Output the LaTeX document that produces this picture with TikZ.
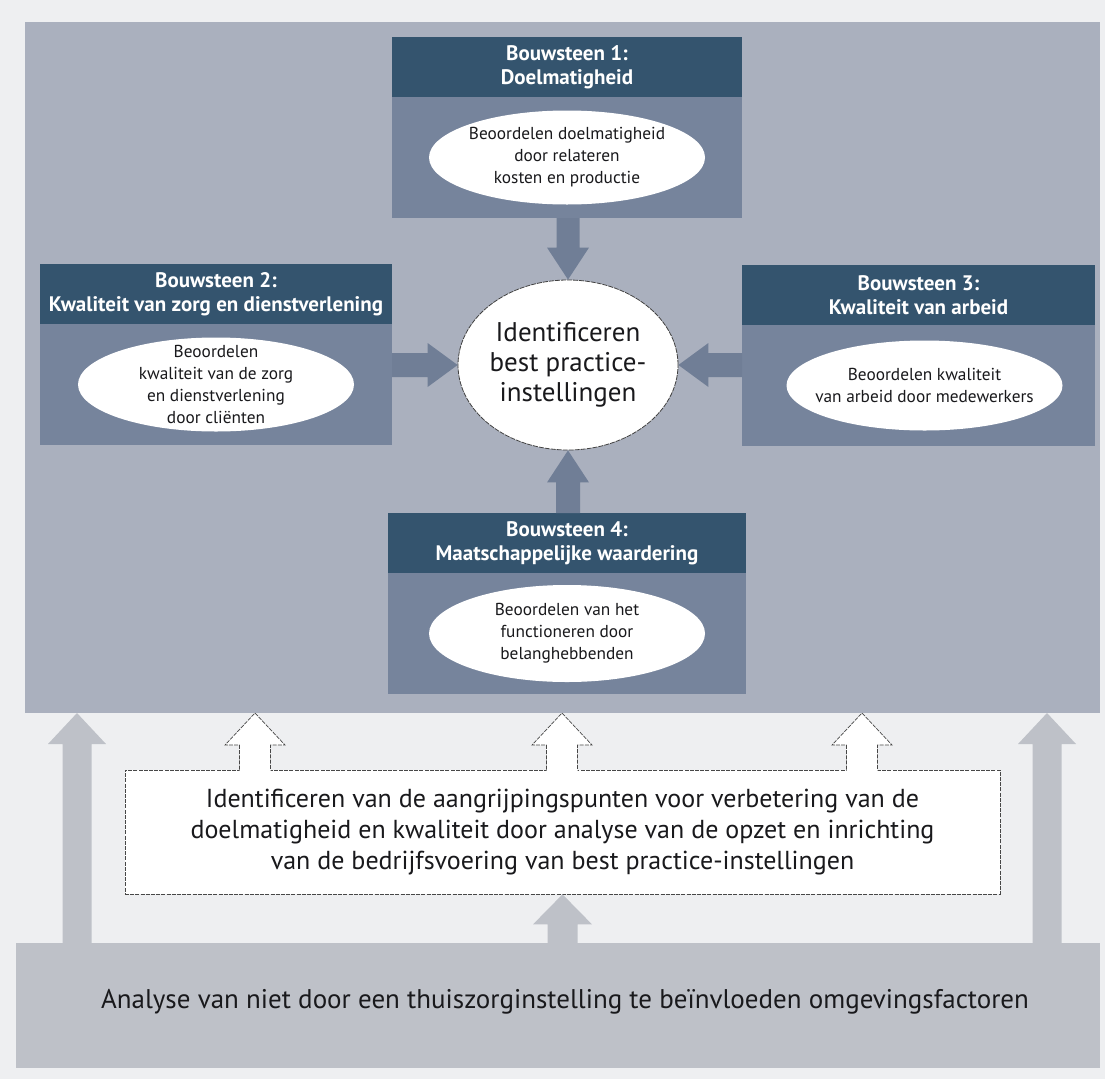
\documentclass[tikz,border=0pt]{standalone}
\usepackage{fontspec}
\setmainfont{PT Sans}
\usetikzlibrary{calc,shapes.geometric}

\definecolor{pagebg}{RGB}{238,239,241}
\definecolor{panelcol}{RGB}{170,176,190}
\definecolor{headcol}{RGB}{52,84,110}
\definecolor{bodycol}{RGB}{118,132,156}
\definecolor{arrowcol}{RGB}{112,126,150}
\definecolor{lightcol}{RGB}{190,193,200}
\definecolor{inkcol}{RGB}{25,25,28}

% filled block arrow: colour, start, end, half shaft, half head, head length
\newcommand\solidarrow[6]{%
  \fill[#1] let \p1=(#2), \p2=(#3), \n1={atan2(\y2-\y1,\x2-\x1)} in
    ($(\p1)+(\n1+90:#4)$)
    -- ($(\p2)+(\n1+180:#6)+(\n1+90:#4)$)
    -- ($(\p2)+(\n1+180:#6)+(\n1+90:#5)$)
    -- (\p2)
    -- ($(\p2)+(\n1+180:#6)+(\n1-90:#5)$)
    -- ($(\p2)+(\n1+180:#6)+(\n1-90:#4)$)
    -- ($(\p1)+(\n1-90:#4)$) -- cycle;
}
% white block arrow with an open dashed outline: start, end, half shaft, half head, head length
\newcommand\openarrow[5]{%
  \fill[white] let \p1=(#1), \p2=(#2), \n1={atan2(\y2-\y1,\x2-\x1)} in
    ($(\p1)+(\n1+90:#3)+(\n1+180:2pt)$)
    -- ($(\p2)+(\n1+180:#5)+(\n1+90:#3)$)
    -- ($(\p2)+(\n1+180:#5)+(\n1+90:#4)$)
    -- (\p2)
    -- ($(\p2)+(\n1+180:#5)+(\n1-90:#4)$)
    -- ($(\p2)+(\n1+180:#5)+(\n1-90:#3)$)
    -- ($(\p1)+(\n1-90:#3)+(\n1+180:2pt)$) -- cycle;
  \draw[dashline] let \p1=(#1), \p2=(#2), \n1={atan2(\y2-\y1,\x2-\x1)} in
    ($(\p1)+(\n1+90:#3)$)
    -- ($(\p2)+(\n1+180:#5)+(\n1+90:#3)$)
    -- ($(\p2)+(\n1+180:#5)+(\n1+90:#4)$)
    -- (\p2)
    -- ($(\p2)+(\n1+180:#5)+(\n1-90:#4)$)
    -- ($(\p2)+(\n1+180:#5)+(\n1-90:#3)$)
    -- ($(\p1)+(\n1-90:#3)$);
}

\tikzset{
  panel/.style={rectangle, fill=#1, inner sep=0pt, outer sep=0pt},
  bbox/.style={rectangle, fill=bodycol, inner sep=0pt, outer sep=0pt, minimum height=181pt},
  bhead/.style={rectangle, fill=headcol, inner sep=0pt, outer sep=0pt, minimum height=60pt,
    anchor=north, text=white, align=center, font=\fontsize{21}{24}\selectfont\bfseries},
  bell/.style={ellipse, fill=white, inner sep=0pt, minimum width=276pt, minimum height=94pt},
  etext/.style={align=center, inner sep=0pt, text=inkcol, font=\fontsize{17.3}{22}\selectfont},
  dashline/.style={draw=black!72, line width=0.7pt, dash pattern=on 4pt off 1.2pt},
  cell/.style={ellipse, fill=white, draw=black!75, line width=0.8pt, dash pattern=on 5pt off 1pt,
    inner sep=0pt, minimum width=220pt, minimum height=170pt},
  ctext/.style={align=center, inner sep=0pt, text=inkcol, font=\fontsize{27}{30}\selectfont},
  wbox/.style={rectangle, fill=white, dashline, inner sep=0pt, align=center, text=inkcol,
    font=\fontsize{26}{31}\selectfont},
  btext/.style={inner sep=0pt, text=inkcol, font=\fontsize{27}{30}\selectfont},
}

\begin{document}
\begin{tikzpicture}[x=1pt,y=-1pt]
\useasboundingbox (0,0) rectangle (1105,1079);
\fill[pagebg] (0,0) rectangle (1105,1079);

% the two large panels
\node[panel=panelcol, minimum width=1075pt, minimum height=691pt] (top) at (562.5,367.5) {};
\node[panel=lightcol, minimum width=1084pt, minimum height=125pt] (bot) at (558,1005.5) {};
\node[btext] (bottxt) at (565,1002)
  {Analyse van niet door een thuiszorginstelling te beïnvloeden omgevingsfactoren};

% side arrows from the bottom panel to the top panel
\coordinate (lx) at (77,830);
\coordinate (rx) at (1047,830);
\solidarrow{lightcol}{bot.north -| lx}{top.south -| lx}{14.5pt}{29pt}{31pt}
\solidarrow{lightcol}{bot.north -| rx}{top.south -| rx}{14.5pt}{29pt}{31pt}

% building block 1
\node[bbox, minimum width=350pt] (b1) at (567,127.5) {};
\node[bhead, minimum width=350pt] (b1h) at (b1.north) {Bouwsteen 1:\\Doelmatigheid};
\node[bell] (b1e) at ($(b1h.south)!0.5!(b1.south)$) {};
\node[etext] (b1t) at (b1e) {Beoordelen doelmatigheid\\door relateren\\kosten en productie};

% building block 2
\node[bbox, minimum width=352pt] (b2) at (216,354.5) {};
\node[bhead, minimum width=352pt] (b2h) at (b2.north) {Bouwsteen 2:\\Kwaliteit van zorg en dienstverlening};
\node[bell] (b2e) at ($(b2h.south)!0.5!(b2.south)$) {};
\node[etext] (b2t) at (b2e) {Beoordelen\\kwaliteit van de zorg\\en dienstverlening\\door cliënten};

% building block 3
\node[bbox, minimum width=353pt] (b3) at (918.5,355.5) {};
\node[bhead, minimum width=353pt] (b3h) at (b3.north) {Bouwsteen 3:\\Kwaliteit van arbeid};
\node[bell, minimum height=90pt] (b3e) at ($($(b3h.south)!0.5!(b3.south)$)+(6,0)$) {};
\node[etext] (b3t) at (b3e) {Beoordelen kwaliteit\\van arbeid door medewerkers};

% building block 4
\node[bbox, minimum width=358pt] (b4) at (567,603.5) {};
\node[bhead, minimum width=358pt] (b4h) at (b4.north) {Bouwsteen 4:\\Maatschappelijke waardering};
\node[bell, minimum height=97pt] (b4e) at ($(b4h.south)!0.5!(b4.south)$) {};
\node[etext] (b4t) at (b4e) {Beoordelen van het\\functioneren door\\belanghebbenden};

% central goal
\node[cell] (cen) at (568,365) {};
\node[ctext] (cent) at (cen) {Identificeren\\best practice-\\instellingen};

% block arrows into the central goal
\solidarrow{arrowcol}{b1.south -| cen}{cen.north}{11.5pt}{21pt}{32pt}
\solidarrow{arrowcol}{b2.east |- cen}{cen.west}{12pt}{22pt}{30pt}
\solidarrow{arrowcol}{b3.west |- cen}{cen.east}{12pt}{22pt}{30pt}
\solidarrow{arrowcol}{b4.north -| cen}{cen.south}{12pt}{21pt}{32pt}

% analysis box with its arrows
\node[wbox, minimum width=875pt, minimum height=124pt] (ibox) at (562.5,832)
  {Identificeren van de aangrijpingspunten voor verbetering van de\\
   doelmatigheid en kwaliteit door analyse van de opzet en inrichting\\
   van de bedrijfsvoering van best practice-instellingen};
\solidarrow{lightcol}{bot.north -| ibox}{ibox.south}{15pt}{29.5pt}{30pt}

\coordinate (w1) at (255,740);
\coordinate (w2) at (562,740);
\coordinate (w3) at (862,740);
\openarrow{ibox.north -| w1}{top.south -| w1}{15.5pt}{30pt}{32pt}
\openarrow{ibox.north -| w2}{top.south -| w2}{15.5pt}{30pt}{32pt}
\openarrow{ibox.north -| w3}{top.south -| w3}{15.5pt}{30pt}{32pt}
\end{tikzpicture}
\end{document}
